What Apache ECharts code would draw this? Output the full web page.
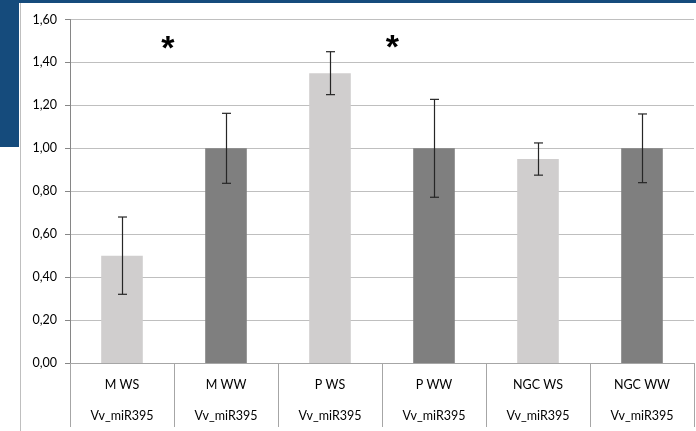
<!DOCTYPE html>
<html><head><meta charset="utf-8">
<script src="https://cdn.jsdelivr.net/npm/echarts@6/dist/echarts.min.js"></script>
<style>html,body{margin:0;padding:0;background:#fff}#c{width:696px;height:431px}</style>
</head><body><div id="c"></div>
<script>
var groups = ['M WS', 'M WW', 'P WS', 'P WW', 'NGC WS', 'NGC WW'];
var gene = 'Vv_miR395';
var values = [0.50, 1.00, 1.35, 1.00, 0.95, 1.00];
var errors = [0.18, 0.163, 0.10, 0.228, 0.075, 0.16];
var treatment = ['WS', 'WW', 'WS', 'WW', 'WS', 'WW'];
var yTicks = [0, 0.2, 0.4, 0.6, 0.8, 1.0, 1.2, 1.4, 1.6];
// significance marks: position between categories (fractional index) and value
var starPos = [0.44, 2.6];
var starVal = [1.459, 1.464];

var colorFor = { WS: '#D0CECE', WW: '#7F7F7F' };
var font = 'Lato, Liberation Sans, Arial, sans-serif';

var chart = echarts.init(document.getElementById('c'), null, { renderer: 'canvas' });
var option = {
  animation: false,
  backgroundColor: '#fff',
  grid: { left: 70, right: 2, top: 19.5, bottom: 64, containLabel: false },
  xAxis: {
    type: 'category',
    data: groups.map(function (g) { return g + '\n' + gene; }),
    axisLine: { show: true, lineStyle: { color: '#A6A6A6', width: 1 } },
    axisTick: { show: true, length: 64, lineStyle: { color: '#A6A6A6' }, alignWithLabel: false },
    axisLabel: { color: '#000', fontFamily: font, fontSize: 12.5, lineHeight: 31, margin: 6 }
  },
  yAxis: {
    type: 'value', min: 0, max: 1.6, interval: 0.2,
    axisLine: { show: true, lineStyle: { color: '#868686' } },
    axisTick: { show: true, length: 5, lineStyle: { color: '#868686' } },
    splitLine: { lineStyle: { color: '#BFBFBF', width: 1 } },
    axisLabel: {
      color: '#000', fontFamily: font, fontSize: 12.5, margin: 13,
      formatter: function (v) { return v.toFixed(2).replace('.', ','); }
    }
  },
  series: [
    {
      type: 'bar', barWidth: '40%',
      data: values.map(function (v, i) { return { value: v, itemStyle: { color: colorFor[treatment[i]] } }; })
    },
    {
      type: 'custom',
      data: values.map(function (v, i) { return [i, v - errors[i], v + errors[i]]; }),
      renderItem: function (params, api) {
        var lo = api.coord([api.value(0), api.value(1)]);
        var hi = api.coord([api.value(0), api.value(2)]);
        var x = Math.round(lo[0]) + 0.5;
        var hw = 4.5;
        var st = { stroke: '#262626', lineWidth: 1.2 };
        return { type: 'group', children: [
          { type: 'line', shape: { x1: x, y1: hi[1], x2: x, y2: lo[1] }, style: st },
          { type: 'line', shape: { x1: x - hw, y1: hi[1], x2: x + hw, y2: hi[1] }, style: st },
          { type: 'line', shape: { x1: x - hw, y1: lo[1], x2: x + hw, y2: lo[1] }, style: st }
        ] };
      },
      z: 5
    }
  ]
};
chart.setOption(option);

// background frame (slide) and significance asterisks
var p0 = chart.convertToPixel({ xAxisIndex: 0 }, 0);
var p1 = chart.convertToPixel({ xAxisIndex: 0 }, 1);
var step = p1 - p0;
var gr = [
  { type: 'rect', shape: { x: 0, y: 0, width: 696, height: 3 }, style: { fill: '#154B7C' }, z: -10 },
  { type: 'rect', shape: { x: 0, y: 0, width: 19, height: 147 }, style: { fill: '#154B7C' }, z: -10 },
  { type: 'line', shape: { x1: 20.5, y1: 3, x2: 20.5, y2: 431 }, style: { stroke: '#BFBFBF', lineWidth: 1 }, z: -9 }
];
starPos.forEach(function (sp, i) {
  var px = p0 + sp * step;
  var py = chart.convertToPixel({ yAxisIndex: 0 }, starVal[i]);
  gr.push({ type: 'text', x: px, y: py, style: { text: '*', fill: '#000', font: 'bold 34px Liberation Sans, Arial, sans-serif', textAlign: 'center', textVerticalAlign: 'middle' }, z: 10 });
});
chart.setOption({ graphic: gr });
</script>
</body></html>
